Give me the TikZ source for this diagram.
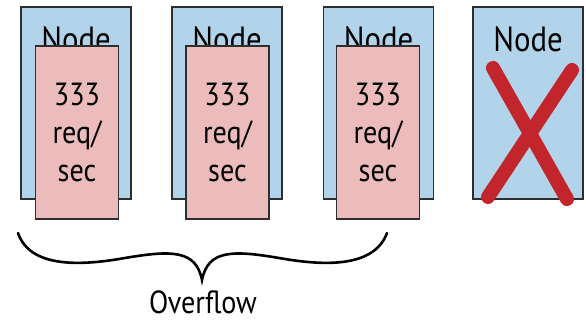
\documentclass[tikz,border=0pt]{standalone}
\usepackage{fontspec}
\setmainfont{PT Sans}[FakeStretch=0.88]
\definecolor{nodeblue}{HTML}{B2D4EA}
\definecolor{loadpink}{HTML}{ECBCBC}
\definecolor{crossred}{HTML}{C3252D}
\definecolor{edge}{HTML}{2E2E2E}
\tikzset{
  server/.style={draw=edge, line width=1.4pt, fill=nodeblue, minimum width=110pt, minimum height=192pt, inner sep=0pt},
  load/.style={draw=edge, line width=1.4pt, fill=loadpink, minimum width=83pt, minimum height=173pt, inner sep=0pt, align=center, font=\fontsize{32}{38}\selectfont},
  caption/.style={font=\fontsize{32}{38}\selectfont, inner sep=0pt},
  title/.style={font=\fontsize{35}{40}\selectfont, inner sep=0pt},
}
\begin{document}
\begin{tikzpicture}[x=1pt, y=-1pt]
\useasboundingbox (0,0) rectangle (586,323);
% servers
\node[server] (s1) at (76,103) {};
\node[server] (s2) at (227,103) {};
\node[server] (s3) at (378.5,103) {};
\node[server] (s4) at (528,103) {};
\foreach \s in {s1,s2,s3,s4}
  \node[title, anchor=north] (\s lbl) at ([yshift=-20pt]\s.north) {Node};
% load on each surviving server
\node[load] (l1) at (77,132.5) {333\\req/\\sec};
\node[load] (l2) at (227.5,132.5) {333\\req/\\sec};
\node[load] (l3) at (378,132.5) {333\\req/\\sec};
% failed server
\coordinate (xa) at (493,68);
\coordinate (xb) at (567,199);
\coordinate (xc) at (572,70);
\coordinate (xd) at (488,197);
\draw[crossred, line width=14pt, line cap=round] (xa) -- (xb);
\draw[crossred, line width=14pt, line cap=round] (xc) -- (xd);
% brace under the three loaded servers
\coordinate (bl) at (18,233);
\coordinate (bt) at (202,280);
\coordinate (br) at (387,233);
\draw[black, line width=2.6pt, line cap=round]
  (bl) .. controls (30,268) and (80,266) .. (125,258)
  .. controls (172,250) and (196,250) .. (bt)
  .. controls (208,250) and (232,250) .. (279,258)
  .. controls (324,266) and (374,268) .. (br);
\node[caption] (ovf) at (203,302) {Overflow};
\end{tikzpicture}
\end{document}
